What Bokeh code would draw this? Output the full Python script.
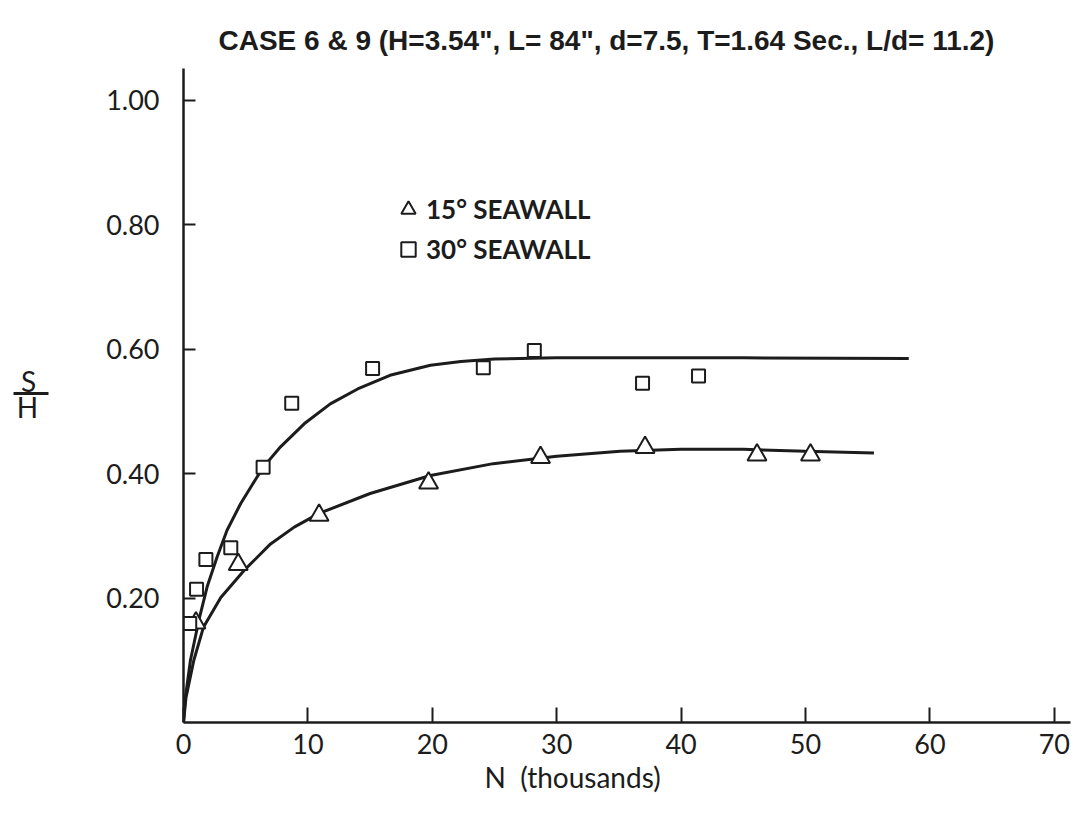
from bokeh.plotting import figure
from bokeh.layouts import row
from bokeh.models import (Range1d, FixedTicker, PrintfTickFormatter, Legend, LegendItem, Title)
from bokeh.core.properties import value
from bokeh.embed import file_html
from bokeh.resources import INLINE

# ---- data ----
title_text = 'CASE 6 & 9 (H=3.54", L= 84", d=7.5, T=1.64 Sec., L/d= 11.2)'
x_label = "N\u00a0\u00a0(thousands)"
y_label_num = "S"
y_label_den = "H"
x_ticks = [0, 10, 20, 30, 40, 50, 60, 70]
y_ticks = [0.2, 0.4, 0.6, 0.8, 1.0]

tri_x = [1.0, 4.4, 10.9, 19.7, 28.7, 37.1, 46.1, 50.4]
tri_y = [0.160, 0.254, 0.333, 0.385, 0.426, 0.442, 0.430, 0.430]
sq_x = [0.5, 1.05, 1.8, 3.8, 6.4, 8.7, 15.2, 24.1, 28.2, 36.9, 41.4]
sq_y = [0.159, 0.214, 0.262, 0.281, 0.410, 0.513, 0.569, 0.570, 0.598, 0.545, 0.557]

curve30_x = [0, 0.15, 0.56, 1.23, 1.9, 2.7, 3.5, 4.6, 5.65, 6.4, 7.8, 9.7, 11.8, 14.0, 16.6,
             19.85, 22.3, 25.0, 30.0, 35.0, 45.0, 58.3]
curve30_y = [0, 0.040, 0.100, 0.164, 0.218, 0.266, 0.309, 0.352, 0.386, 0.410, 0.443, 0.480,
             0.512, 0.536, 0.558, 0.574, 0.580, 0.584, 0.586, 0.586, 0.586, 0.585]
curve15_x = [0, 0.2, 0.83, 1.6, 3.0, 4.85, 7.0, 8.9, 10.9, 15.0, 19.85, 24.9, 30.0, 35.1,
             40.0, 45.0, 50.0, 55.5]
curve15_y = [0, 0.040, 0.100, 0.153, 0.201, 0.244, 0.287, 0.314, 0.336, 0.368, 0.397, 0.416,
             0.428, 0.436, 0.439, 0.439, 0.436, 0.433]

INK = "#1c1c1c"
TICK_FONT = "Lato, 'Open Sans', sans-serif"
LEFT_W = 60

# ---- narrow strip holding the S/H fraction used as the y-axis title ----
lab = figure(width=LEFT_W, height=825, output_backend="svg", toolbar_location=None,
             x_range=Range1d(0, LEFT_W), y_range=Range1d(825, 0),
             x_axis_type=None, y_axis_type=None, min_border=0)
lab.title.visible = False
lab.outline_line_color = None
lab.grid.visible = False
lab.background_fill_color = "white"
lab.border_fill_color = "white"
lab.text(x=[28, 27], y=[394, 427], text=[y_label_num, y_label_den],
         text_font=value(TICK_FONT), text_font_size="28px", text_color=INK,
         text_align="center", text_baseline="middle")
lab.segment(x0=[13], y0=[410], x1=[48], y1=[410], line_color=INK, line_width=3)

# ---- main chart ----
p = figure(width=1086 - LEFT_W, height=825, output_backend="svg", toolbar_location=None,
           x_range=Range1d(0, 71.3), y_range=Range1d(0, 1.051),
           min_border_left=183 - LEFT_W, min_border_right=16, min_border_top=68,
           min_border_bottom=103)
p.outline_line_color = None
p.grid.visible = False
p.background_fill_color = "white"
p.border_fill_color = "white"

p.title.text = title_text
p.title.align = "left"
p.title.offset = 35
p.title.text_font = "'Liberation Sans', sans-serif"
p.title.text_font_size = "28px"
p.title.text_font_style = "bold"
p.title.text_color = INK
p.title.standoff = 26

for ax in (p.xaxis[0], p.yaxis[0]):
    ax.axis_line_width = 2.5
    ax.axis_line_color = INK
    ax.major_tick_line_width = 2
    ax.major_tick_line_color = INK
    ax.major_tick_out = 0
    ax.minor_tick_line_color = None
    ax.major_label_text_font = TICK_FONT
    ax.major_label_text_font_size = "27px"
    ax.major_label_text_color = INK

p.xaxis.ticker = FixedTicker(ticks=x_ticks)
p.xaxis.major_tick_in = 15
p.xaxis.major_label_standoff = 11

p.add_layout(Title(text=x_label, align="left", offset=301, text_font=TICK_FONT,
                   text_font_size="28px", text_font_style="normal", text_color=INK,
                   standoff=2), "below")

p.yaxis.ticker = FixedTicker(ticks=y_ticks)
p.yaxis.formatter = PrintfTickFormatter(format="%.2f")
p.yaxis.major_tick_in = 12
p.yaxis.major_label_standoff = 24

# curves
p.line(curve30_x, curve30_y, line_color=INK, line_width=3)
p.line(curve15_x, curve15_y, line_color=INK, line_width=3)

# points
tri = p.scatter(tri_x, tri_y, marker="triangle", size=19, fill_color="white",
                line_color=INK, line_width=2)
sq = p.scatter(sq_x, sq_y, marker="square", size=13, fill_color="white",
               line_color=INK, line_width=2)

legend = Legend(items=[LegendItem(label="15° SEAWALL", renderers=[tri]),
                       LegendItem(label="30° SEAWALL", renderers=[sq])],
                location=(207, 453), border_line_alpha=0, background_fill_alpha=0,
                padding=0, margin=0, spacing=0, label_height=40, glyph_height=40,
                glyph_width=36, label_standoff=0,
                label_text_font=TICK_FONT, label_text_font_size="26px",
                label_text_font_style="bold", label_text_color=INK)
p.add_layout(legend)

layout = row(lab, p, spacing=0)
open("out.html", "w").write(file_html(layout, INLINE))
